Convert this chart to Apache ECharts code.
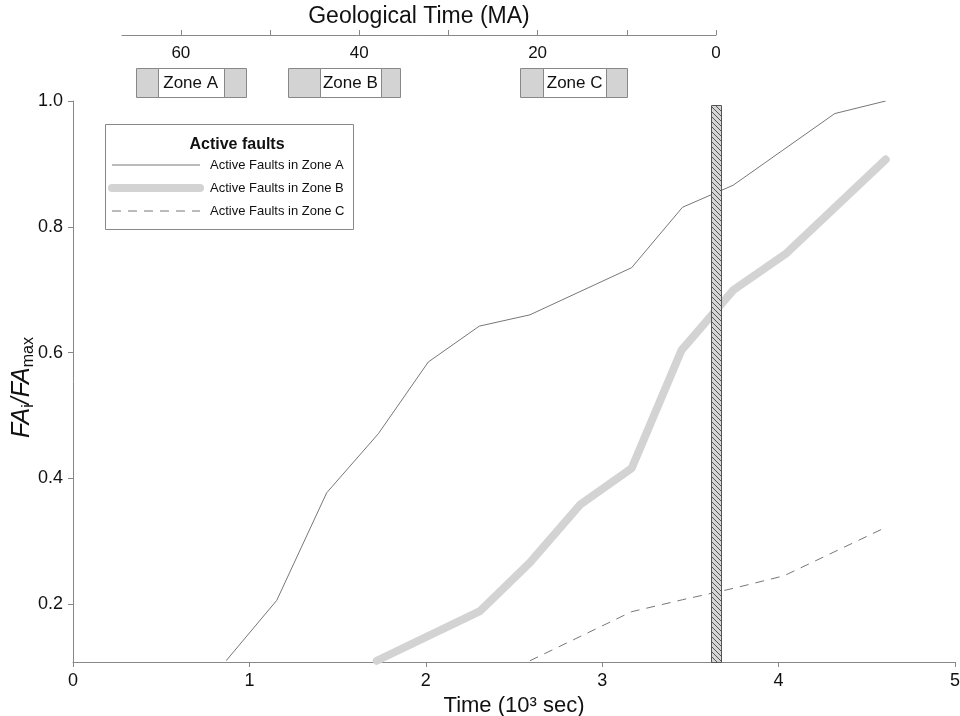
<!DOCTYPE html>
<html>
<head>
<meta charset="utf-8">
<script src="https://cdn.jsdelivr.net/npm/echarts@6/dist/echarts.min.js"></script>
<style>
html,body{margin:0;padding:0;background:#fff;}
#chart{width:960px;height:716px;}
</style>
</head>
<body>
<div id="chart"></div>
<script>
// ---- data ----
var seriesNames = ['Active Faults in Zone A', 'Active Faults in Zone B', 'Active Faults in Zone C'];
var zoneA = [[0.868,0.11],[1.155,0.206],[1.438,0.377],[1.731,0.471],[2.014,0.585],[2.303,0.642],[2.590,0.660],[3.167,0.735],[3.455,0.831],[3.742,0.866],[4.318,0.980],[4.607,1.0]];
var zoneB = [[1.722,0.11],[2.307,0.189],[2.590,0.266],[2.874,0.358],[3.167,0.416],[3.450,0.604],[3.742,0.699],[4.045,0.758],[4.607,0.907]];
var zoneC = [[2.590,0.11],[3.167,0.188],[3.455,0.207],[3.742,0.225],[4.030,0.245],[4.607,0.322]];
var presentBar = [[3.615, 3.672, 0.993]]; // [x start, x end, top value]
var yTicks = [0.2, 0.4, 0.6, 0.8, 1.0];
var geoLabelTicks = [0, 20, 40, 60];
var geoMinorTicks = [0, 10, 20, 30, 40, 50, 60];
var zoneNames = ['Zone A', 'Zone B', 'Zone C'];
var zoneOuter = [[65.0, 52.7], [48.0, 35.4], [22.0, 10.0]];   // MA
var zoneInner = [[62.6, 55.2], [44.4, 37.6], [19.4, 12.3]];   // MA

// ---- hatch pattern ----
var pc = document.createElement('canvas');
pc.width = 5; pc.height = 5;
var pctx = pc.getContext('2d');
pctx.fillStyle = '#d6d6d6';
pctx.fillRect(0, 0, 5, 5);
pctx.strokeStyle = '#555';
pctx.lineWidth = 1;
pctx.beginPath();
pctx.moveTo(-1, -1); pctx.lineTo(6, 6);
pctx.moveTo(-1, 4); pctx.lineTo(1, 6);
pctx.moveTo(4, -1); pctx.lineTo(6, 1);
pctx.stroke();

var FONT = '"Liberation Sans", Arial, sans-serif';
var chart = echarts.init(document.getElementById('chart'));

var zoneData = zoneNames.map(function (n, i) {
  return [zoneOuter[i][0], zoneOuter[i][1], zoneInner[i][0], zoneInner[i][1], i];
});

var option = {
  animation: false,
  backgroundColor: '#fff',
  textStyle: { fontFamily: FONT },
  grid: [
    { left: 73, top: 101, width: 882, height: 561, outerBoundsMode: 'none', containLabel: false },
    { left: 122, top: 35, width: 594, height: 62, outerBoundsMode: 'none', containLabel: false }
  ],
  xAxis: [
    {
      gridIndex: 0, type: 'value', min: 0, max: 5, interval: 1,
      name: 'Time (10³ sec)', nameLocation: 'middle', nameGap: 29,
      nameTextStyle: { fontSize: 22, color: '#111', fontFamily: FONT },
      axisLine: { show: true, onZero: false, lineStyle: { color: '#888', width: 1 } },
      axisTick: { show: true, length: 5, lineStyle: { color: '#888' } },
      axisLabel: { fontSize: 18, color: '#111', margin: 10, fontFamily: FONT },
      splitLine: { show: false }
    },
    {
      gridIndex: 1, type: 'value', min: 0, max: 66.6, inverse: true, position: 'top',
      name: 'Geological Time (MA)', nameLocation: 'middle', nameGap: 7,
      nameTextStyle: { fontSize: 23, color: '#111', fontFamily: FONT },
      axisLine: { show: true, onZero: false, lineStyle: { color: '#888', width: 1 } },
      axisTick: { show: true, inside: false, length: 5, lineStyle: { color: '#888' }, customValues: geoMinorTicks },
      axisLabel: { inside: true, fontSize: 17, color: '#111', margin: 10, fontFamily: FONT, customValues: geoLabelTicks },
      splitLine: { show: false }
    }
  ],
  yAxis: [
    {
      gridIndex: 0, type: 'value', min: 0.108, max: 1.0,
      name: '{m|FA}{s|i}{m|/FA}{s|max}', nameLocation: 'middle', nameGap: 36, nameRotate: 90,
      nameMoveOverlap: false,
      nameTextStyle: {
        padding: [0, 12, 0, 0],
        rich: {
          m: { fontSize: 25, fontStyle: 'italic', color: '#111', fontFamily: FONT, lineHeight: 30, verticalAlign: 'middle' },
          s: { fontSize: 16, color: '#111', fontFamily: FONT, lineHeight: 30, verticalAlign: 'bottom' }
        }
      },
      axisLine: { show: true, onZero: false, lineStyle: { color: '#888', width: 1 } },
      axisTick: { show: true, length: 5, lineStyle: { color: '#888' }, customValues: yTicks },
      axisLabel: { fontSize: 18, color: '#111', margin: 10, fontFamily: FONT, customValues: yTicks,
        formatter: function (v) { return v.toFixed(1); } },
      splitLine: { show: false }
    },
    { gridIndex: 1, type: 'value', min: 0, max: 1, show: false }
  ],
  legend: {
    left: 103, top: 153, orient: 'vertical',
    itemWidth: 88, itemHeight: 14, itemGap: 9,
    itemStyle: { color: 'rgba(0,0,0,0)', borderWidth: 0, opacity: 0 },
    data: [
      { name: seriesNames[0], lineStyle: { width: 1, color: '#777' } },
      { name: seriesNames[1], lineStyle: { width: 8, color: '#d3d3d3', cap: 'round' } },
      { name: seriesNames[2], lineStyle: { width: 1, color: '#777', type: [9, 7] } }
    ],
    textStyle: { fontSize: 13, color: '#111', fontFamily: FONT, padding: [0, 0, 0, 5], lineHeight: 14 }
  },
  graphic: [
    { type: 'rect', shape: { x: 105.5, y: 124.5, width: 248, height: 105 },
      style: { fill: '#fff', stroke: '#888', lineWidth: 1 }, z: 0 },
    { type: 'text', x: 237, y: 145, style: { text: 'Active faults', font: 'bold 16px ' + FONT,
      fill: '#111', align: 'center', verticalAlign: 'middle' } }
  ],
  series: [
    { name: seriesNames[0], type: 'line', xAxisIndex: 0, yAxisIndex: 0, data: zoneA, symbol: 'none',
      lineStyle: { color: '#777', width: 1 }, itemStyle: { color: '#777' }, z: 3 },
    { name: seriesNames[1], type: 'line', xAxisIndex: 0, yAxisIndex: 0, data: zoneB, symbol: 'none',
      lineStyle: { color: '#d3d3d3', width: 8, cap: 'round', join: 'round' }, itemStyle: { color: '#d3d3d3' }, z: 2 },
    { name: seriesNames[2], type: 'line', xAxisIndex: 0, yAxisIndex: 0, data: zoneC, symbol: 'none',
      lineStyle: { color: '#777', width: 1, type: [9, 7] }, itemStyle: { color: '#777' }, z: 3 },
    {
      type: 'custom', xAxisIndex: 0, yAxisIndex: 0, data: presentBar, z: 5, silent: true,
      renderItem: function (params, api) {
        var p0 = api.coord([api.value(0), api.value(2)]);
        var p1 = api.coord([api.value(1), 0.108]);
        return { type: 'rect', shape: { x: Math.round(p0[0]) + 0.5, y: Math.round(p0[1]) + 0.5,
            width: Math.round(p1[0] - p0[0]), height: Math.round(p1[1] - p0[1]) },
          style: { fill: { image: pc, repeat: 'repeat' }, stroke: '#555', lineWidth: 1 } };
      }
    },
    {
      type: 'custom', xAxisIndex: 1, yAxisIndex: 1, data: zoneData, silent: true, clip: false,
      renderItem: function (params, api) {
        var top = api.coord([0, 1])[1] + 33;
        var h = 29;
        var o0 = api.coord([api.value(0), 0])[0], o1 = api.coord([api.value(1), 0])[0];
        var i0 = api.coord([api.value(2), 0])[0], i1 = api.coord([api.value(3), 0])[0];
        var name = zoneNames[api.value(4)];
        return { type: 'group', children: [
          { type: 'rect', shape: { x: Math.round(o0) + 0.5, y: top + 0.5, width: Math.round(o1 - o0), height: h },
            style: { fill: '#d3d3d3', stroke: '#888', lineWidth: 1 } },
          { type: 'rect', shape: { x: Math.round(i0) + 0.5, y: top + 0.5, width: Math.round(i1 - i0), height: h },
            style: { fill: '#fff', stroke: '#888', lineWidth: 1 } },
          { type: 'text', x: (i0 + i1) / 2, y: top + h / 2 + 1,
            style: { text: name, font: '17px ' + FONT, fill: '#111', align: 'center', verticalAlign: 'middle' } }
        ] };
      }
    }
  ]
};
chart.setOption(option);
</script>
</body>
</html>
